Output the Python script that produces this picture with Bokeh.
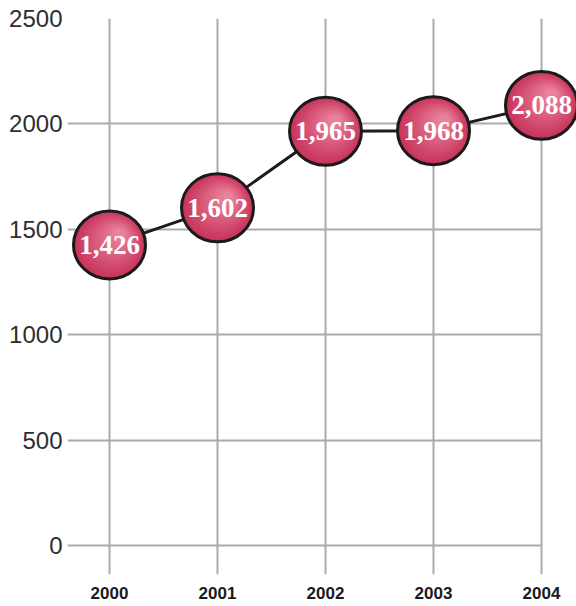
from bokeh.plotting import figure
from bokeh.models import ColumnDataSource, FixedTicker, Range1d
from bokeh.embed import file_html
from bokeh.resources import INLINE
from bokeh.core.properties import value

# ---- data ----
years = [2000, 2001, 2002, 2003, 2004]
values = [1426, 1602, 1965, 1968, 2088]
labels = ["1,426", "1,602", "1,965", "1,968", "2,088"]
y_ticks = [0, 500, 1000, 1500, 2000, 2500]
year_labels = ["2000", "2001", "2002", "2003", "2004"]

X0, X1 = 1999.611, 2004.324
Y0, Y1 = -137.6, 2500

p = figure(width=576, height=606, output_backend="svg", toolbar_location=None,
           x_range=Range1d(X0, X1), y_range=Range1d(Y0, Y1),
           min_border_left=67, min_border_right=0, min_border_top=18,
           min_border_bottom=32)
p.outline_line_color = None
p.background_fill_color = "white"
p.border_fill_color = "white"

# grids
p.xgrid.ticker = FixedTicker(ticks=years)
p.ygrid.ticker = FixedTicker(ticks=y_ticks)
for g in (p.xgrid, p.ygrid):
    g.grid_line_color = "#ababab"
    g.grid_line_width = 2
if "cross_bounds" in p.ygrid[0].properties():
    p.ygrid.cross_bounds = (X0, years[-1])
else:
    p.ygrid.grid_line_color = None
    p.segment(x0=[X0] * len(y_ticks), y0=y_ticks, x1=[years[-1]] * len(y_ticks),
              y1=y_ticks, line_color="#ababab", line_width=2)

# axes
p.yaxis.ticker = FixedTicker(ticks=y_ticks)
p.xaxis.ticker = FixedTicker(ticks=years)
p.xaxis.major_label_overrides = {y: s for y, s in zip(years, year_labels)}
for ax in (p.xaxis, p.yaxis):
    ax.axis_line_color = None
    ax.major_tick_line_color = None
    ax.minor_tick_line_color = None
    ax.major_tick_out = 0
    ax.major_tick_in = 0
p.yaxis.major_label_text_font = "Liberation Sans"
p.yaxis.major_label_text_font_size = "24px"
p.yaxis.major_label_text_color = "#2e2e2e"
p.yaxis.major_label_standoff = 5
p.xaxis.major_label_text_font = "Liberation Sans"
p.xaxis.major_label_text_font_size = "17px"
p.xaxis.major_label_text_font_style = "bold"
p.xaxis.major_label_text_color = "#1a1a1a"
p.xaxis.major_label_standoff = 12

# connecting line
p.line(years, values, line_color="#1c1c1c", line_width=3)

# bubbles with simulated radial gradient
W, H = 72, 68
px_per_year = 108.0
px_per_unit = 0.2108
edge = (200, 52, 92)
center = (234, 130, 154)
N = 14
for k in range(N):
    t = k / (N - 1)
    s = 1 - 0.85 * t
    c = tuple(int(round(edge[i] + (center[i] - edge[i]) * t)) for i in range(3))
    color = "#%02x%02x%02x" % c
    dx = 10 * t / px_per_year
    dy = 11 * t / px_per_unit
    src = ColumnDataSource(dict(x=[yv + dx for yv in years],
                                y=[v + dy for v in values]))
    p.ellipse(x="x", y="y", width=W * s, height=H * s, width_units="screen",
              height_units="screen", source=src, fill_color=color,
              line_color=None)

p.ellipse(x=years, y=values, width=W, height=H, width_units="screen",
          height_units="screen", fill_color=None, line_color="#1a1a1a",
          line_width=3)

lab_src = ColumnDataSource(dict(x=years, y=values, t=labels))
p.text(x="x", y="y", text="t", source=lab_src, text_align="center",
       text_baseline="middle", text_color="white",
       text_font=value("Liberation Serif"), text_font_style="bold",
       text_font_size="27px")

open("out.html", "w").write(file_html(p, INLINE))
